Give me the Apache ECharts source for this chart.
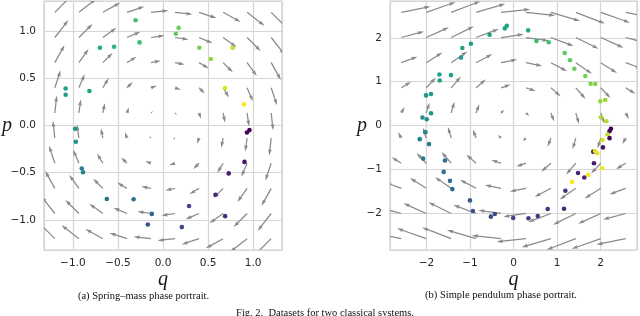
<!DOCTYPE html>
<html><head><meta charset="utf-8">
<script src="https://cdn.jsdelivr.net/npm/echarts@6/dist/echarts.min.js"></script>
<style>html,body{margin:0;padding:0;background:#fff}#c{width:640px;height:316px}</style>
</head><body><div id="c"></div><script>
// ---- Panel (a): spring-mass ----
// quiver grid (q columns, p rows) and field components (u per row, v per column)
const qGridA = [-1.2, -0.933, -0.667, -0.4, -0.133, 0.133, 0.4, 0.667, 0.933, 1.2];
const pGridA = [-1.2, -0.933, -0.667, -0.4, -0.133, 0.133, 0.4, 0.667, 0.933, 1.2];
const uRowA = [-1.2, -0.933, -0.667, -0.4, -0.133, 0.133, 0.4, 0.667, 0.933, 1.2];
const vColA = [1.2, 0.933, 0.667, 0.4, 0.133, -0.133, -0.4, -0.667, -0.933, -1.2];
// samples
const qA = [-0.304, 0.173, 0.143, -0.26, -0.70, -0.542, 0.403, 0.773, 0.531, -1.08, -1.08, -0.816, 0.689, 0.898, 0.959, 0.931, -0.975, -0.967, -0.901, -0.887, -0.623, -0.326, -0.124, -0.168, 0.209, 0.289, 0.582, 0.689, 0.729, 0.904];
const pA = [1.116, 1.035, 0.972, 0.881, 0.824, 0.835, 0.824, 0.824, 0.705, 0.393, 0.326, 0.365, 0.397, 0.224, -0.049, -0.074, -0.035, -0.172, -0.456, -0.495, -0.779, -0.782, -0.937, -1.049, -1.077, -0.853, -0.734, -0.961, -0.508, -0.386];
const tA = [0.70, 0.77, 0.75, 0.68, 0.60, 0.64, 0.80, 0.90, 0.84, 0.55, 0.54, 0.57, 0.95, 1.00, 0.00, 0.01, 0.51, 0.50, 0.42, 0.43, 0.38, 0.36, 0.33, 0.26, 0.21, 0.20, 0.11, 0.14, 0.08, 0.05];

// ---- Panel (b): simple pendulum ----
const qGridB = [-2.58, -2.007, -1.433, -0.86, -0.287, 0.287, 0.86, 1.433, 2.007, 2.58];
const pGridB = [-2.58, -2.007, -1.433, -0.86, -0.287, 0.287, 0.86, 1.433, 2.007, 2.58];
const uRowB = [-2.58, -2.007, -1.433, -0.86, -0.287, 0.287, 0.86, 1.433, 2.007, 2.58];
const vColB = [0.531, 0.906, 0.990, 0.758, 0.283, -0.283, -0.758, -0.990, -0.906, -0.531];
const qB = [-0.154, -0.200, -0.550, 0.337, 0.528, 0.810, -0.979, -1.177, -1.209, 1.177, 1.300, 1.399, -1.704, -1.438, -1.697, 1.651, 1.773, 1.881, -2.011, -1.897, 1.995, 2.110, -1.897, -2.094, -1.995, 2.011, 2.133, -2.025, 2.241, 2.209, -2.156, 2.163, 2.209, -1.943, 2.048, 2.057, 1.835, 1.874, 1.927, -2.080, -1.576, -1.606, -1.461, -1.406, -1.002, -0.933, -0.521, -0.429, -0.007, 0.344, 0.557, 0.787, 1.163, 1.193, 1.346, 1.484, 1.628, 1.720, 1.851, 2.041];
const pB = [2.274, 2.215, 2.070, 2.170, 1.927, 1.898, 1.866, 1.769, 1.549, 1.655, 1.490, 1.293, 1.163, 1.150, 1.027, 1.127, 0.952, 0.946, 0.687, 0.719, 0.551, 0.583, 0.279, 0.181, 0.143, 0.188, 0.098, -0.152, -0.075, -0.129, -0.311, -0.204, -0.288, -0.424, -0.333, -0.499, -0.596, -0.583, -0.635, -0.755, -0.800, -1.059, -1.263, -1.451, -1.708, -1.950, -2.079, -2.018, -2.109, -2.116, -2.063, -1.905, -1.898, -1.490, -1.286, -1.082, -1.186, -1.127, -0.862, -0.975];
const tB = [0.58, 0.58, 0.57, 0.61, 0.68, 0.70, 0.55, 0.55, 0.54, 0.74, 0.76, 0.77, 0.56, 0.57, 0.56, 0.80, 0.81, 0.82, 0.52, 0.53, 0.84, 0.85, 0.50, 0.48, 0.48, 0.87, 0.88, 0.46, 0.00, 0.01, 0.44, 0.90, 0.03, 0.42, 0.94, 0.05, 0.06, 0.96, 0.97, 0.40, 0.37, 0.37, 0.36, 0.33, 0.30, 0.25, 0.23, 0.22, 0.20, 0.18, 0.17, 0.15, 0.12, 0.13, 1.00, 0.10, 0.09, 0.99, 0.07, 0.98];

const viridis = ['#440154','#482475','#414487','#355f8d','#2a788e','#21918c','#22a884','#44bf70','#7ad151','#bddf26','#fde725'];

function quiverData(qs, ps, us, vs) {
  const d = [];
  for (let i = 0; i < ps.length; i++) for (let j = 0; j < qs.length; j++) d.push([qs[j], ps[i], us[i], vs[j]]);
  return d;
}
const SHAFT = 1.25;
function arrowRender(scale) {
  return function (params, api) {
    const pt = api.coord([api.value(0), api.value(1)]);
    const dx = api.value(2) * scale, dy = -api.value(3) * scale;
    const L = Math.hypot(dx, dy);
    if (L < 0.01) return null;
    const w = SHAFT, hl = 5 * w, hal = 4.5 * w, hw = 3 * w;
    let pts;
    if (L >= hl) {
      pts = [[0,-w/2],[L-hal,-w/2],[L-hl,-hw/2],[L,0],[L-hl,hw/2],[L-hal,w/2],[0,w/2]];
    } else {
      const k = L / hl;
      pts = [[0,-w/2],[hl-hal,-w/2],[0,-hw/2],[hl,0],[0,hw/2],[hl-hal,w/2],[0,w/2]].map(a => [a[0]*k, a[1]*k]);
    }
    const c = dx / L, s = dy / L;
    const out = pts.map(a => [pt[0] + a[0]*c - a[1]*s, pt[1] + a[0]*s + a[1]*c]);
    return { type: 'polygon', shape: { points: out }, style: { fill: '#8a8a8a' } };
  };
}
const fmt1 = v => (Math.abs(v) < 1e-9 ? 0 : v).toFixed(1).replace('-', '\u2212');
const fmt0 = v => String(Math.round(v)).replace('-', '\u2212');
const labelStyle = { fontFamily: 'DejaVu Sans', fontSize: 10.5, color: '#262626' };
const nameStyle = { fontFamily: 'Liberation Serif', fontStyle: 'italic', fontSize: 20, color: '#1a1a1a' };
const splitStyle = { show: true, lineStyle: { color: '#d6d6d6', width: 1.2 } };

function axis(gridIndex, lim, fmt, name, gap) {
  return {
    gridIndex, type: 'value', min: -lim, max: lim, splitNumber: 5,
    axisLine: { show: false }, axisTick: { show: false },
    splitLine: splitStyle,
    axisLabel: Object.assign({ margin: 8, showMinLabel: false, showMaxLabel: false, formatter: fmt }, labelStyle),
    name, nameLocation: 'middle', nameGap: gap, nameRotate: 0, nameMoveOverlap: false, nameTextStyle: nameStyle
  };
}

const chart = echarts.init(document.getElementById('c'));
chart.setOption({
  animation: false,
  backgroundColor: '#ffffff',
  grid: [
    { left: 42, top: 1, width: 240, height: 249, show: true, borderColor: '#cfcfcf', borderWidth: 1.2, backgroundColor: '#fff' },
    { left: 390, top: 1, width: 247, height: 249, show: true, borderColor: '#cfcfcf', borderWidth: 1.2, backgroundColor: '#fff' }
  ],
  xAxis: [
    axis(0, 1.32, fmt1, 'q', 20),
    axis(1, 2.84, fmt0, 'q', 20)
  ],
  yAxis: [
    axis(0, 1.32, fmt1, 'p', 32),
    axis(1, 2.84, fmt0, 'p', 23)
  ],
  visualMap: [{ type: 'continuous', show: false, min: 0, max: 1, dimension: 2, seriesIndex: [1, 3], inRange: { color: viridis } }],
  series: [
    { type: 'custom', xAxisIndex: 0, yAxisIndex: 0, clip: true, renderItem: arrowRender(14.5), data: quiverData(qGridA, pGridA, uRowA, vColA), z: 2, silent: true },
    { type: 'scatter', xAxisIndex: 0, yAxisIndex: 0, symbolSize: 4.6, itemStyle: { opacity: 1 }, data: qA.map((q, i) => [q, pA[i], tA[i]]), z: 3 },
    { type: 'custom', xAxisIndex: 1, yAxisIndex: 1, clip: true, renderItem: arrowRender(11.3), data: quiverData(qGridB, pGridB, uRowB, vColB), z: 2, silent: true },
    { type: 'scatter', xAxisIndex: 1, yAxisIndex: 1, symbolSize: 4.6, itemStyle: { opacity: 1 }, data: qB.map((q, i) => [q, pB[i], tB[i]]), z: 3 }
  ],
  graphic: [
    { type: 'text', x: 143.5, y: 296, style: { text: '(a) Spring\u2013mass phase portrait.', font: '10.5px "Liberation Serif"', fill: '#111', align: 'center', verticalAlign: 'middle' } },
    { type: 'text', x: 501, y: 295, style: { text: '(b) Simple pendulum phase portrait.', font: '10.5px "Liberation Serif"', fill: '#111', align: 'center', verticalAlign: 'middle' } },
    { type: 'text', x: 325, y: 313, style: { text: 'Fig. 2.  Datasets for two classical systems.', font: '10.5px "Liberation Serif"', fill: '#111', align: 'center', verticalAlign: 'middle' } }
  ]
});
</script></body></html>
